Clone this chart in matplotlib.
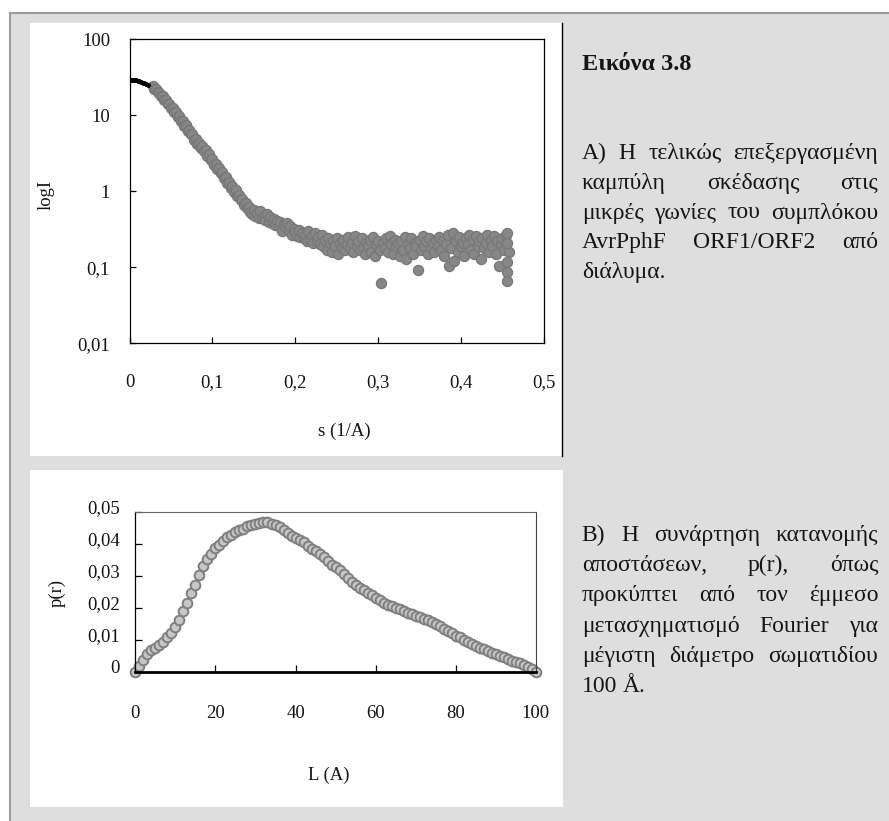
import numpy as np
import matplotlib
matplotlib.use('Agg')
import matplotlib.pyplot as plt
import matplotlib.transforms as mtransforms
from matplotlib.patches import Rectangle
from matplotlib.lines import Line2D
from matplotlib.ticker import NullLocator

# ---- data: scattering curve (top panel) ----
s_black = [0.000, 0.002, 0.004, 0.006, 0.008, 0.010, 0.012, 0.014, 0.016, 0.018, 0.020, 0.022]
I_black = [29.3, 29.3, 29.2, 29.1, 28.9, 28.6, 28.2, 27.6, 27.0, 26.3, 25.6, 25.0]

s_start, s_step = 0.028, 0.002
I_gray = [
    24.0, 22.0, 22.2, 20.0, 19.9, 17.7, 17.8, 15.9, 15.8, 14.0,
    14.1, 12.3, 12.5, 10.9, 11.0, 9.6, 9.7, 8.3, 8.4, 7.2,
    7.4, 6.3, 6.5, 5.6, 5.7, 4.8, 4.95, 4.2, 4.3, 3.7,
    4.0, 3.35, 3.45, 2.95, 3.05, 2.6, 2.65, 2.25, 2.3, 1.95,
    2.05, 1.72, 1.8, 1.48, 1.55, 1.3, 1.33, 1.12, 1.18, 0.97,
    1.03, 0.87, 0.90, 0.76, 0.80, 0.67, 0.70, 0.60, 0.63, 0.53,
    0.50, 0.56, 0.47, 0.52, 0.45, 0.55, 0.44, 0.48, 0.42, 0.50,
    0.40, 0.46, 0.38, 0.43, 0.36, 0.41, 0.35, 0.39, 0.30, 0.37,
    0.34, 0.38, 0.30, 0.35, 0.27, 0.32, 0.29, 0.26, 0.31, 0.25,
    0.28, 0.24, 0.27, 0.22, 0.30, 0.23, 0.26, 0.21, 0.28, 0.22,
    0.25, 0.20, 0.27, 0.19, 0.23, 0.17, 0.24, 0.21, 0.16, 0.22,
    0.19, 0.24, 0.15, 0.21, 0.18, 0.23, 0.17, 0.20, 0.25, 0.18,
    0.21, 0.16, 0.26, 0.19, 0.22, 0.17, 0.24, 0.18, 0.15, 0.21,
    0.19, 0.23, 0.16, 0.25, 0.14, 0.20, 0.22, 0.17, 0.063, 0.21,
    0.18, 0.24, 0.16, 0.26, 0.20, 0.15, 0.23, 0.19, 0.21, 0.14,
    0.22, 0.17, 0.25, 0.13, 0.20, 0.18, 0.24, 0.15, 0.21, 0.19,
    0.093, 0.23, 0.17, 0.26, 0.19, 0.22, 0.15, 0.24, 0.18, 0.21,
    0.16, 0.23, 0.19, 0.25, 0.17, 0.22, 0.14, 0.20, 0.27, 0.105,
    0.18, 0.28, 0.12, 0.22, 0.16, 0.25, 0.19, 0.21, 0.14, 0.24,
    0.20, 0.27, 0.17, 0.23, 0.15, 0.26, 0.19, 0.22, 0.13, 0.24,
    0.18, 0.21, 0.27, 0.16, 0.23, 0.19, 0.26, 0.15, 0.22, 0.105,
    0.20, 0.24, 0.17, 0.27, 0.088, 0.16,
]
s_tail = [0.455, 0.455, 0.455, 0.455]
I_tail = [0.067, 0.118, 0.21, 0.28]

# ---- data: distance distribution (bottom panel) ----
L = np.arange(0, 101)
p_r = [
    0.0, 0.0019, 0.0037, 0.0055, 0.0067, 0.0075, 0.0082, 0.0094, 0.0110, 0.0122,
    0.0140, 0.0162, 0.0190, 0.0215, 0.0245, 0.0272, 0.0302, 0.0330, 0.0352, 0.0368,
    0.0388, 0.0397, 0.0410, 0.0420, 0.0428, 0.0436, 0.0442, 0.0447, 0.0455, 0.0460,
    0.0462, 0.0466, 0.0469, 0.0467, 0.0463, 0.0458, 0.0451, 0.0443, 0.0435, 0.0425,
    0.0418, 0.0412, 0.0404, 0.0393, 0.0383, 0.0376, 0.0368, 0.0357, 0.0345, 0.0335,
    0.0327, 0.0318, 0.0305, 0.0292, 0.0281, 0.0272, 0.0263, 0.0254, 0.0247, 0.0240,
    0.0231, 0.0223, 0.0216, 0.0209, 0.0204, 0.0199, 0.0195, 0.0190, 0.0185, 0.0180,
    0.0175, 0.0171, 0.0166, 0.0161, 0.0155, 0.0149, 0.0142, 0.0135, 0.0128, 0.0120,
    0.0113, 0.0107, 0.0099, 0.0092, 0.0087, 0.0081, 0.0075, 0.0070, 0.0064, 0.0059,
    0.0054, 0.0049, 0.0045, 0.0040, 0.0035, 0.0031, 0.0027, 0.0022, 0.0016, 0.0008,
    0.0,
]

top_xticks = [0, 0.1, 0.2, 0.3, 0.4, 0.5]
top_xlabels = ['0', '0,1', '0,2', '0,3', '0,4', '0,5']
top_yticks = [0.01, 0.1, 1, 10, 100]
top_ylabels = ['0,01', '0,1', '1', '10', '100']
bot_xticks = [0, 20, 40, 60, 80, 100]
bot_yticks = [0, 0.01, 0.02, 0.03, 0.04, 0.05]
bot_ylabels = ['0', '0,01', '0,02', '0,03', '0,04', '0,05']

title = 'Εικόνα 3.8'
text_a = ['A) Η τελικώς επεξεργασμένη',
          'καμπύλη σκέδασης στις',
          'μικρές γωνίες του συμπλόκου',
          'AvrPphF ORF1/ORF2 από',
          'διάλυμα.']
text_b = ['B) Η συνάρτηση κατανομής',
          'αποστάσεων, p(r), όπως',
          'προκύπτει από τον έμμεσο',
          'μετασχηματισμό Fourier για',
          'μέγιστη διάμετρο σωματιδίου',
          '100 Å.']

W, H = 889, 821
plt.rcParams['font.family'] = ['Liberation Serif', 'DejaVu Serif']
TXT = '#141414'

fig = plt.figure(figsize=(W / 100, H / 100), dpi=100)
fig.patch.set_facecolor('white')


def fx(x):
    return x / W


def fy(y):
    return 1 - y / H


# page background, frame and white boxes
fig.patches.append(Rectangle((fx(10), 0), 1 - fx(10), fy(12.7), transform=fig.transFigure,
                             facecolor='#dedede', edgecolor='none', zorder=-10))
fig.add_artist(Line2D([fx(10), 1], [fy(12.7), fy(12.7)], color='#9c9c9c', lw=1.5, zorder=-5))
fig.add_artist(Line2D([fx(10), fx(10)], [0, fy(12.7)], color='#9c9c9c', lw=1.5, zorder=-5))
fig.patches.append(Rectangle((fx(29.6), fy(455.7)), (562 - 29.6) / W, (455.7 - 22.7) / H,
                             transform=fig.transFigure, facecolor='white', edgecolor='none', zorder=-9))
fig.patches.append(Rectangle((fx(29.6), fy(806.7)), (563 - 29.6) / W, (806.7 - 470) / H,
                             transform=fig.transFigure, facecolor='white', edgecolor='none', zorder=-9))
fig.add_artist(Line2D([fx(562), fx(562)], [fy(455.7), fy(22.7)], color='black', lw=1, zorder=-5))

# ---- top panel ----
ax1 = fig.add_axes([fx(129.5), fy(343.3), (543.8 - 129.5) / W, (343.3 - 39.3) / H])
s_gray = s_start + s_step * np.arange(len(I_gray))
ax1.plot(s_gray, I_gray, ls='none', marker='o', ms=7.3, mfc='#878787', mec='#777777', mew=0.9)
ax1.plot(s_tail, I_tail, ls='none', marker='o', ms=7.3, mfc='#878787', mec='#777777', mew=0.9)
ax1.plot(s_black, I_black, color='black', lw=2.2, marker='o', ms=2.5)
ax1.set_yscale('log')
ax1.set_xlim(0, 0.5)
ax1.set_ylim(0.01, 100)
ax1.set_xticks(top_xticks, top_xlabels)
ax1.set_yticks(top_yticks, top_ylabels)
ax1.yaxis.set_minor_locator(NullLocator())
ax1.tick_params(axis='both', direction='in', length=4.5, width=0.9, labelsize=13.5, labelcolor=TXT)
ax1.tick_params(axis='x', pad=22, top=False)
ax1.tick_params(axis='y', pad=14, right=False)
for sp in ax1.spines.values():
    sp.set_linewidth(0.9)
ax1.set_xlabel('s (1/A)', fontsize=13.5, color=TXT)
ax1.set_ylabel('logI', fontsize=13.5, color=TXT)
ax1.xaxis.set_label_coords(0.518, -0.288)
ax1.xaxis.label.set_va('center')
ax1.yaxis.set_label_coords(-0.2015, 0.488)
ax1.yaxis.label.set_va('center')

# ---- bottom panel ----
ax2 = fig.add_axes([fx(135.4), fy(671.7), (535.7 - 135.4) / W, (671.7 - 511.7) / H])
ax2.plot(L, p_r, ls='none', marker='o', ms=7.0, mfc='#c6c6c6', mec='#7f7f7f', mew=1.4, clip_on=False)
ax2.set_xlim(0, 100)
ax2.set_ylim(0, 0.05)
ax2.set_xticks(bot_xticks, [str(v) for v in bot_xticks])
ax2.set_yticks(bot_yticks, bot_ylabels)
ax2.tick_params(axis='both', direction='in', length=5, width=0.9, labelsize=13.5, labelcolor=TXT)
ax2.tick_params(axis='x', pad=24)
ax2.tick_params(axis='y', pad=11)
ax2.spines['bottom'].set_linewidth(2)
ax2.spines['left'].set_linewidth(0.9)
ax2.spines['top'].set_color('#666666')
ax2.spines['right'].set_color('#444444')
ax2.set_xlabel('L (A)', fontsize=13.5, color=TXT)
ax2.set_ylabel('p(r)', fontsize=13.5, color=TXT)
ax2.xaxis.set_label_coords(0.484, -0.646)
ax2.xaxis.label.set_va('center')
ax2.yaxis.set_label_coords(-0.195, 0.492)
ax2.yaxis.label.set_va('center')
shift = mtransforms.ScaledTranslation(0, 5 / 100, fig.dpi_scale_trans)
for lab in ax2.get_yticklabels():
    lab.set_transform(lab.get_transform() + shift)

# ---- caption text on the right, justified ----
renderer = fig.canvas.get_renderer()


def paragraph(lines, baselines, x0, x1, size):
    probe_a = fig.text(0, 0, 'a a', fontsize=size)
    probe_b = fig.text(0, 0, 'aa', fontsize=size)
    space = probe_a.get_window_extent(renderer).width - probe_b.get_window_extent(renderer).width
    probe_a.remove()
    probe_b.remove()
    for i, (line, yb) in enumerate(zip(lines, baselines)):
        words = line.split(' ')
        objs = [fig.text(0, fy(yb), w, fontsize=size, ha='left', va='baseline', color=TXT)
                for w in words]
        widths = [o.get_window_extent(renderer).width for o in objs]
        if i == len(lines) - 1 or len(words) == 1:
            gap = space
        else:
            gap = max(space * 0.6, (x1 - x0 - sum(widths)) / (len(words) - 1))
        x = x0
        for o, w in zip(objs, widths):
            o.set_x(fx(x))
            x += w + gap


fig.text(fx(581.7), fy(70), title, fontsize=17.5, fontweight='bold', ha='left', va='baseline', color=TXT)
paragraph(text_a, [159.3, 189, 218.5, 248, 278], 581.7, 878.3, 17)
paragraph(text_b, [541, 571, 601, 631.5, 661.5, 691.7], 581.7, 878.3, 17)

fig.savefig('out.png', dpi=100)
